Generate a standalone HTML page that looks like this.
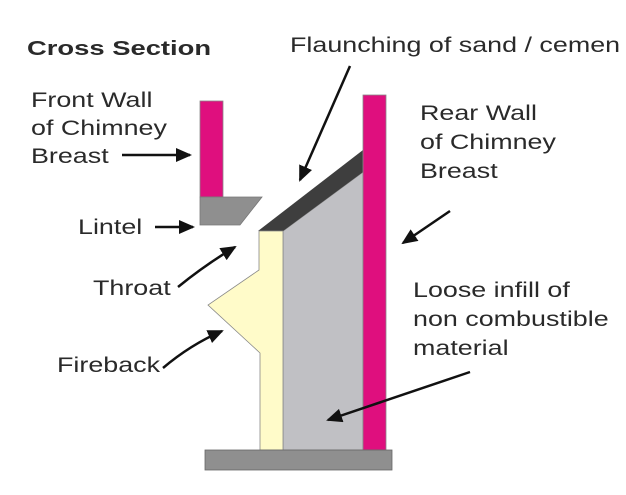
<!DOCTYPE html>
<html><head><style>
html,body{margin:0;padding:0;background:#fff;}
svg{display:block;}
text{font-family:"Liberation Sans",sans-serif;fill:#2a2a2a;font-size:21px;}
</style></head><body>
<svg width="626" height="495" viewBox="0 0 626 495">
<defs>
<marker id="b" markerWidth="16" markerHeight="14" refX="14" refY="7" orient="auto" markerUnits="userSpaceOnUse"><path d="M0,0 L16,7 L0,14 Z" fill="#111"/></marker></defs>
<rect width="626" height="495" fill="#fff"/>
<rect x="200" y="101" width="23" height="96" fill="#df0f7e" stroke="#888" stroke-width="0.8"/>
<polygon points="200,197 262,197 240,225 200,225" fill="#8f8f8f" stroke="#777" stroke-width="0.8"/>
<polygon points="283,231 363,172 363,450 283,450" fill="#c0c0c4" stroke="#888" stroke-width="0.8"/>
<polygon points="258,231 363,150 363,172 283,231" fill="#3e3e3e"/>
<polygon points="259,231 283,231 283,450 260,450 260,353 208,305 259,270" fill="#fffbc9" stroke="#888" stroke-width="0.8"/>
<rect x="363" y="95" width="23" height="355" fill="#df0f7e" stroke="#888" stroke-width="0.8"/>
<rect x="205" y="450" width="187" height="20" fill="#8f8f8f" stroke="#666" stroke-width="0.8"/>
<g stroke="#111" stroke-width="2.5" fill="none">
<line x1="122" y1="155" x2="190" y2="155" marker-end="url(#b)"/>
<line x1="155" y1="227" x2="193" y2="227" marker-end="url(#b)"/>
<path d="M178,287 Q205,265 235,247" marker-end="url(#b)"/>
<path d="M163,368 Q190,345 222,331" marker-end="url(#b)"/>
<line x1="350" y1="66" x2="300" y2="180" marker-end="url(#b)"/>
<line x1="450" y1="211" x2="403" y2="243" marker-end="url(#b)"/>
<line x1="470" y1="372" x2="328" y2="420" marker-end="url(#b)"/>
</g>
<text transform="translate(27,55) scale(1.37,1)" style="font-weight:bold;font-size:20px">Cross Section</text>
<text transform="translate(31,107) scale(1.28,1)">Front Wall</text>
<text transform="translate(31,135) scale(1.28,1)">of Chimney</text>
<text transform="translate(31,163) scale(1.28,1)">Breast</text>
<text transform="translate(78,234) scale(1.28,1)">Lintel</text>
<text transform="translate(93,295) scale(1.28,1)">Throat</text>
<text transform="translate(57,372) scale(1.28,1)">Fireback</text>
<text transform="translate(290,52) scale(1.28,1)">Flaunching of sand / cemen</text>
<text transform="translate(420,120) scale(1.28,1)">Rear Wall</text>
<text transform="translate(420,149) scale(1.28,1)">of Chimney</text>
<text transform="translate(420,178) scale(1.28,1)">Breast</text>
<text transform="translate(413,297) scale(1.28,1)">Loose infill of</text>
<text transform="translate(413,326) scale(1.28,1)">non combustible</text>
<text transform="translate(413,355) scale(1.28,1)">material</text>
</svg>
</body></html>
